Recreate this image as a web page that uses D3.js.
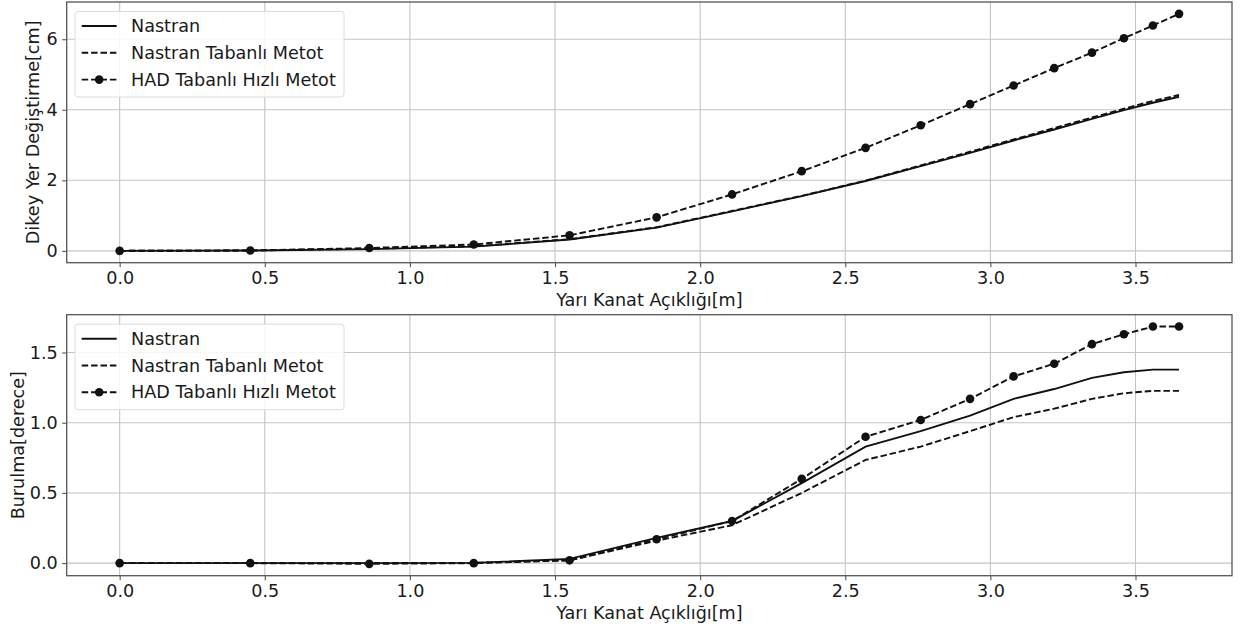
<!DOCTYPE html>
<html>
<head>
<meta charset="utf-8">
<script src="https://cdn.jsdelivr.net/npm/d3@7"></script>
<style>
  html, body { margin: 0; padding: 0; background: #fff; }
  svg { display: block; }
  text { font-family: "DejaVu Sans", sans-serif; fill: #1a1a1a; }
</style>
</head>
<body>
<svg id="chart" width="1240" height="632"></svg>
<script>
// ---------- DATA ----------
const spanX = [0, 0.45, 0.86, 1.22, 1.55, 1.85, 2.11, 2.35, 2.57, 2.76, 2.93, 3.08, 3.22, 3.35, 3.46, 3.56, 3.65];

const seriesNames = ["Nastran", "Nastran Tabanlı Metot", "HAD Tabanlı Hızlı Metot"];

// Top panel: Dikey Yer Değiştirme [cm]
const dispNastran = [0, 0.01, 0.05, 0.12, 0.32, 0.66, 1.12, 1.55, 1.98, 2.40, 2.78, 3.13, 3.44, 3.74, 3.99, 4.20, 4.37];
const dispTabanli = [0, 0.01, 0.06, 0.13, 0.33, 0.67, 1.13, 1.56, 1.99, 2.42, 2.81, 3.16, 3.48, 3.78, 4.03, 4.25, 4.42];
const dispHAD     = [0, 0.01, 0.08, 0.18, 0.44, 0.95, 1.60, 2.26, 2.92, 3.56, 4.16, 4.69, 5.18, 5.62, 6.03, 6.39, 6.72];

// Bottom panel: Burulma [derece]
const twistNastran = [0, 0, 0, 0.002, 0.03, 0.18, 0.30, 0.57, 0.83, 0.94, 1.05, 1.17, 1.24, 1.32, 1.36, 1.378, 1.378];
const twistTabanli = [0, 0, 0, 0.002, 0.02, 0.16, 0.27, 0.50, 0.735, 0.83, 0.94, 1.04, 1.10, 1.17, 1.21, 1.227, 1.227];
const twistHAD     = [0, 0, -0.005, 0.0, 0.02, 0.17, 0.30, 0.60, 0.90, 1.02, 1.17, 1.33, 1.42, 1.56, 1.63, 1.685, 1.685];

const xTicks = [0, 0.5, 1.0, 1.5, 2.0, 2.5, 3.0, 3.5];
const dispTicks = [0, 2, 4, 6];
const twistTicks = [0, 0.5, 1.0, 1.5];

const xLabel = "Yarı Kanat Açıklığı[m]";
const dispLabel = "Dikey Yer Değiştirme[cm]";
const twistLabel = "Burulma[derece]";

// ---------- DRAW ----------
const svg = d3.select("#chart");
const FONT = 17.6;
const left = 66.7, right = 1232;

function pad(lo, hi) { const m = (hi - lo) * 0.05; return [lo - m, hi + m]; }

function panel(cfg) {
  const g = svg.append("g");
  const xDom = pad(d3.min(spanX), d3.max(spanX));
  const allY = cfg.series.flat();
  const yDom = pad(d3.min(allY), d3.max(allY));
  const x = d3.scaleLinear().domain(xDom).range([left, right]);
  const y = d3.scaleLinear().domain(yDom).range([cfg.bottom, cfg.top]);

  // grid
  g.append("g").selectAll("line").data(xTicks).join("line")
    .attr("x1", d => x(d)).attr("x2", d => x(d))
    .attr("y1", cfg.top).attr("y2", cfg.bottom)
    .attr("stroke", "#c4c4c4").attr("stroke-width", 1.1);
  g.append("g").selectAll("line").data(cfg.yTicks).join("line")
    .attr("x1", left).attr("x2", right)
    .attr("y1", d => y(d)).attr("y2", d => y(d))
    .attr("stroke", "#c4c4c4").attr("stroke-width", 1.1);

  // axes
  const xa = g.append("g").attr("transform", `translate(0,${cfg.bottom})`)
    .call(d3.axisBottom(x).tickValues(xTicks).tickFormat(d3.format(".1f")).tickSize(4.5).tickPadding(4.5).tickSizeOuter(0));
  const ya = g.append("g").attr("transform", `translate(${left},0)`)
    .call(d3.axisLeft(y).tickValues(cfg.yTicks).tickFormat(cfg.yFmt).tickSize(4.5).tickPadding(4.5).tickSizeOuter(0));
  [xa, ya].forEach(a => {
    a.select(".domain").remove();
    a.selectAll(".tick line").attr("stroke", "#555").attr("stroke-width", 1.1);
    a.selectAll(".tick text").attr("font-size", FONT).attr("font-family", "DejaVu Sans").style("fill", "#1a1a1a");
  });

  // frame
  g.append("rect").attr("x", left).attr("y", cfg.top)
    .attr("width", right - left).attr("height", cfg.bottom - cfg.top)
    .attr("fill", "none").attr("stroke", "#555").attr("stroke-width", 1.3);

  // lines
  const clipId = "clip" + cfg.id;
  svg.append("clipPath").attr("id", clipId).append("rect")
    .attr("x", left).attr("y", cfg.top).attr("width", right - left).attr("height", cfg.bottom - cfg.top);
  const plot = g.append("g").attr("clip-path", `url(#${clipId})`);
  const line = d3.line().x((d, i) => x(spanX[i])).y(d => y(d));
  const styles = [
    { dash: null, marker: false },
    { dash: "6.5,2.9", marker: false },
    { dash: "6.5,2.9", marker: true }
  ];
  cfg.series.forEach((s, k) => {
    plot.append("path").datum(s).attr("d", line)
      .attr("fill", "none").attr("stroke", "#111").attr("stroke-width", 1.9)
      .attr("stroke-dasharray", styles[k].dash);
    if (styles[k].marker) {
      plot.append("g").selectAll("circle").data(s).join("circle")
        .attr("cx", (d, i) => x(spanX[i])).attr("cy", d => y(d))
        .attr("r", 4.3).attr("fill", "#111");
    }
  });

  // axis labels
  g.append("text").attr("x", (left + right) / 2).attr("y", cfg.bottom + 43.5)
    .attr("text-anchor", "middle").attr("font-size", FONT).text(xLabel);
  g.append("text")
    .attr("transform", `translate(${cfg.yLabelX},${(cfg.top + cfg.bottom) / 2}) rotate(-90)`)
    .attr("text-anchor", "middle").attr("font-size", FONT).text(cfg.yLabel);

  // legend
  const lx = 75, ly = cfg.top + 9.5, lw = 269, lh = 85.5;
  const lg = g.append("g");
  lg.append("rect").attr("x", lx).attr("y", ly).attr("width", lw).attr("height", lh)
    .attr("rx", 3).attr("fill", "#fff").attr("fill-opacity", 0.85)
    .attr("stroke", "#dcdcdc").attr("stroke-width", 1);
  seriesNames.forEach((name, k) => {
    const cy = ly + 14.5 + k * 26.8;
    lg.append("line").attr("x1", 81.7).attr("x2", 116.7).attr("y1", cy).attr("y2", cy)
      .attr("stroke", "#111").attr("stroke-width", 1.9)
      .attr("stroke-dasharray", styles[k].dash);
    if (styles[k].marker) {
      lg.append("circle").attr("cx", 99.2).attr("cy", cy).attr("r", 4.3).attr("fill", "#111");
    }
    lg.append("text").attr("x", 131).attr("y", cy).attr("dy", "0.35em")
      .attr("font-size", FONT).text(name);
  });
}

panel({ id: "top", top: 2, bottom: 262.7, series: [dispNastran, dispTabanli, dispHAD],
        yTicks: dispTicks, yFmt: d3.format("d"), yLabel: dispLabel, yLabelX: 38.5 });
panel({ id: "bot", top: 314.7, bottom: 575.7, series: [twistNastran, twistTabanli, twistHAD],
        yTicks: twistTicks, yFmt: d3.format(".1f"), yLabel: twistLabel, yLabelX: 24 });
</script>
</body>
</html>
